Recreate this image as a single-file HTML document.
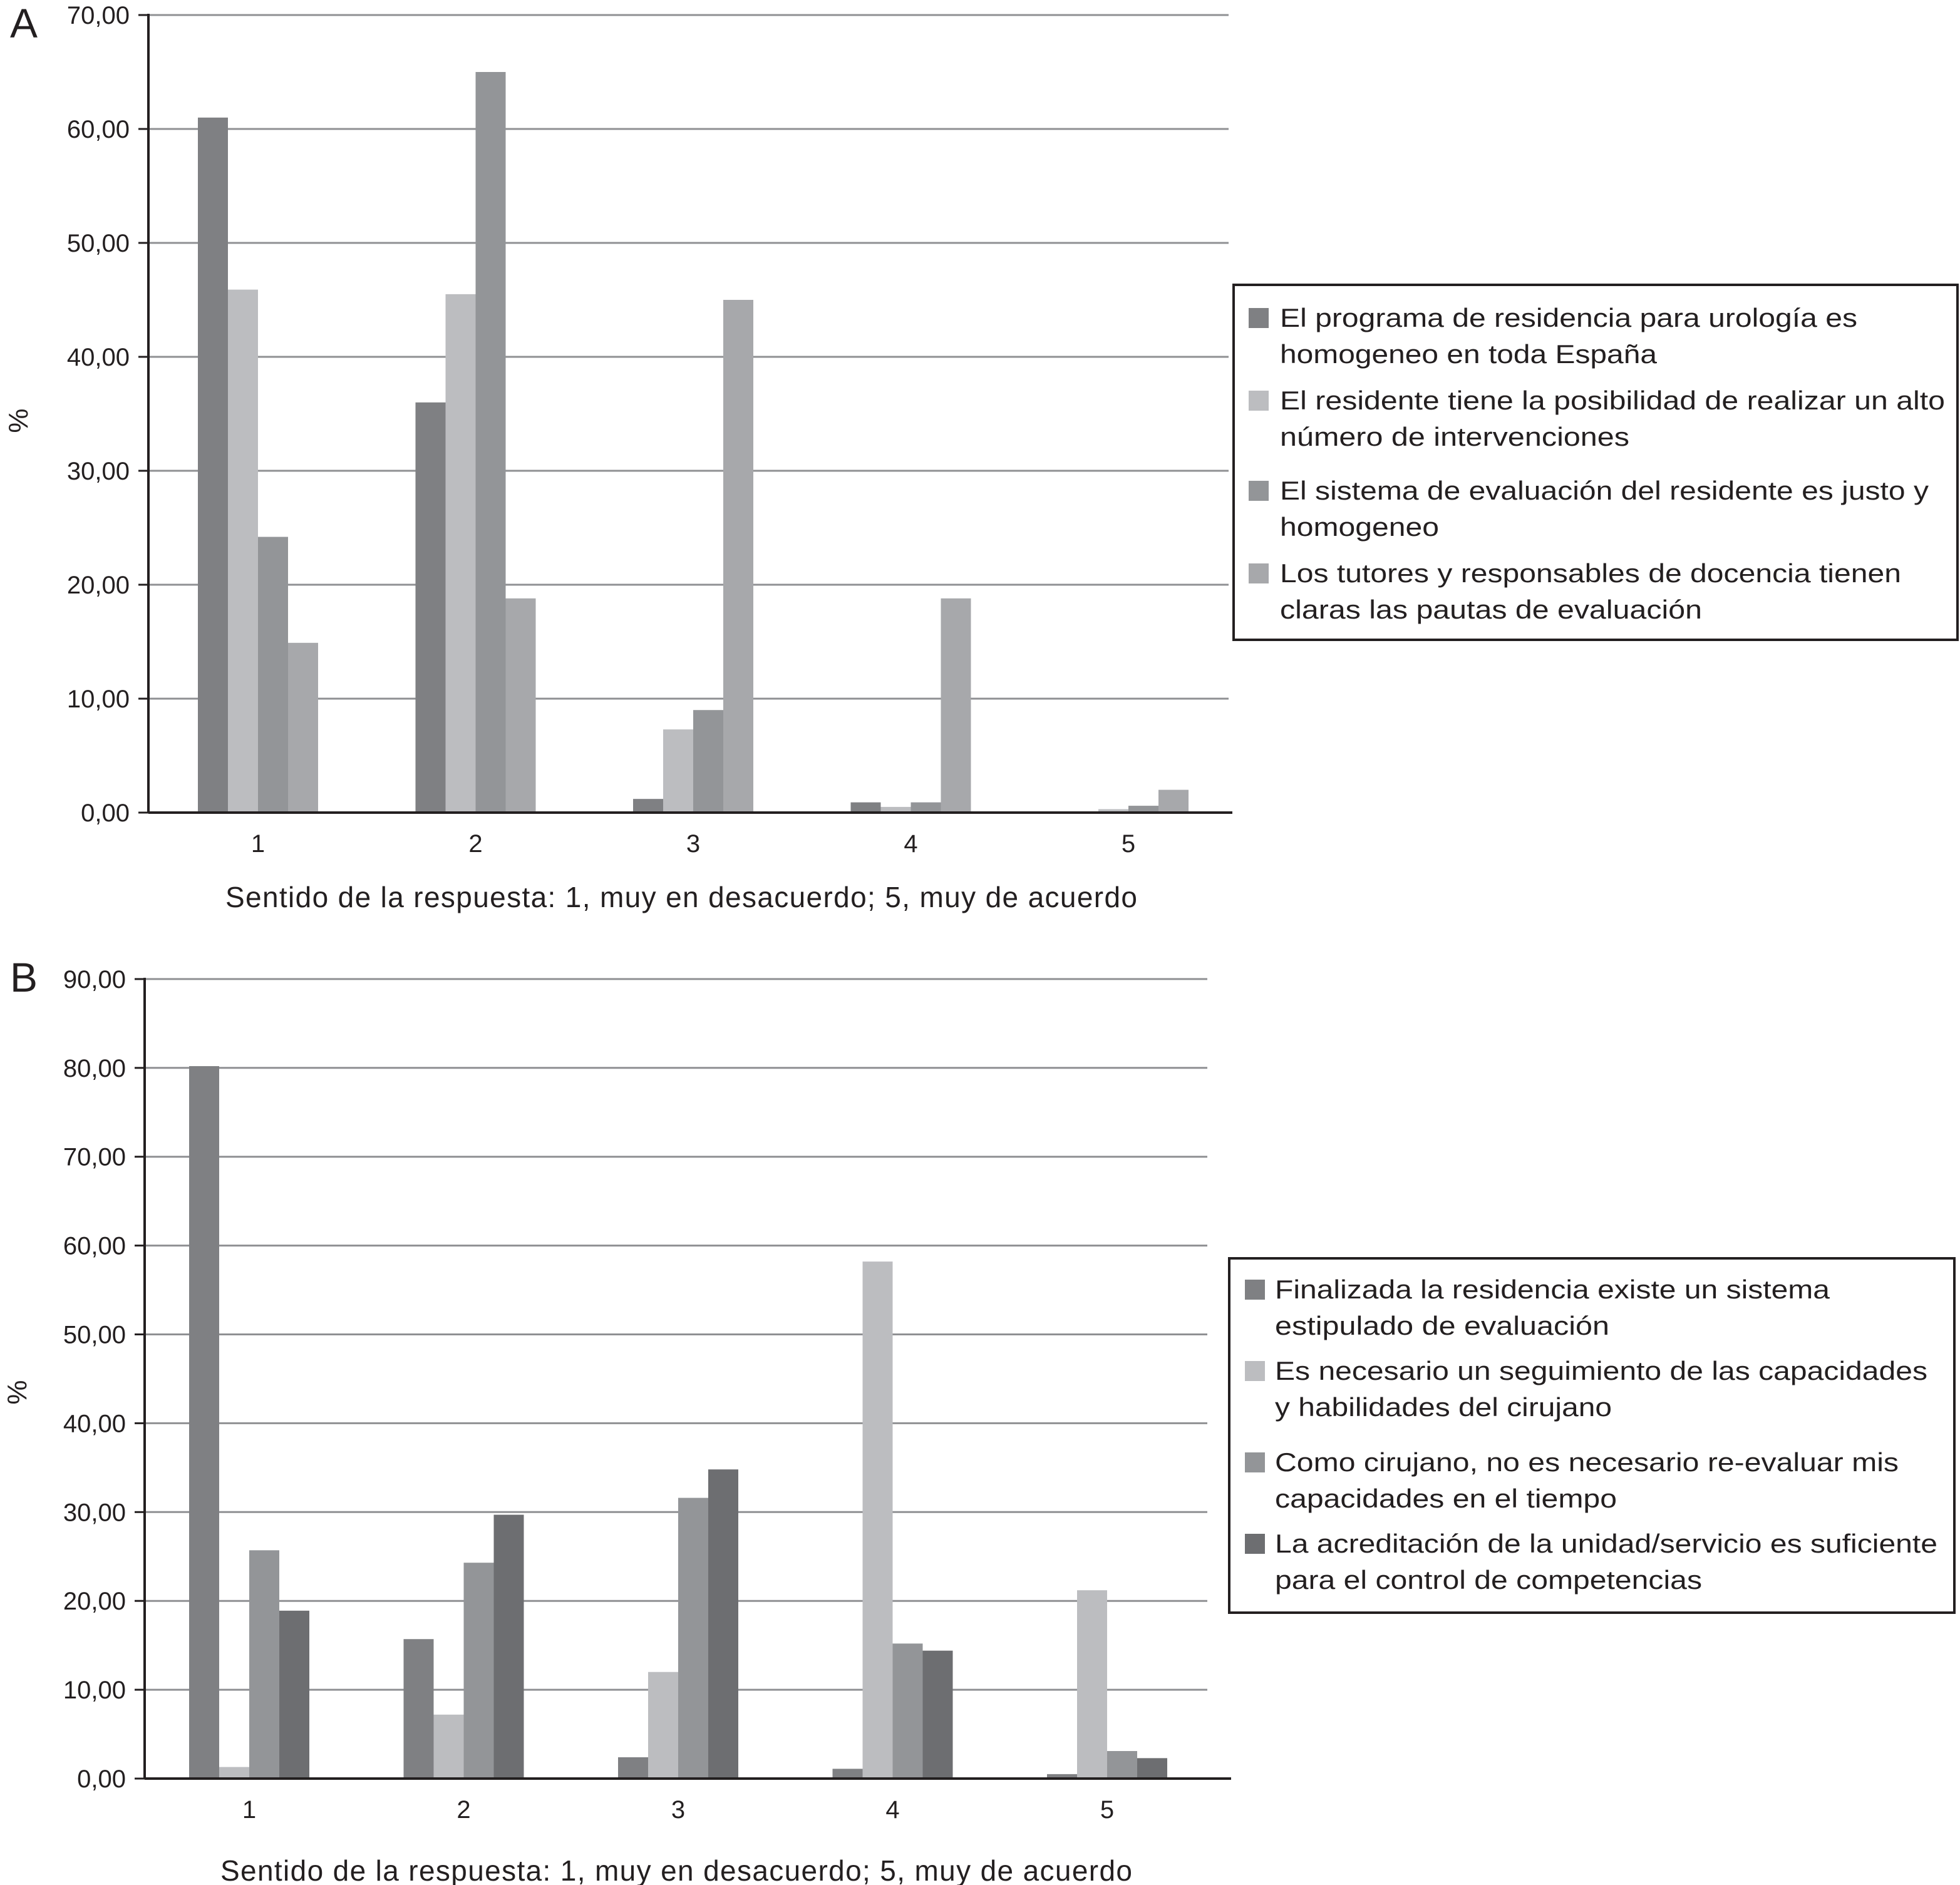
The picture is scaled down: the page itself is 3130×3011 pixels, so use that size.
<!DOCTYPE html>
<html><head><meta charset="utf-8"><style>
html,body{margin:0;padding:0;background:#fff}
svg{display:block;font-family:"Liberation Sans",sans-serif}
</style></head><body>
<svg id="chart" width="3130" height="3011" viewBox="0 0 3130 3011" xmlns="http://www.w3.org/2000/svg">
<text x="16" y="60" font-size="66" fill="#231f20">A</text>
<text x="16" y="1584" font-size="66" fill="#231f20">B</text>
<text transform="translate(44,672) rotate(-90)" text-anchor="middle" font-size="44" fill="#231f20">%</text>
<text transform="translate(42,2224) rotate(-90)" text-anchor="middle" font-size="44" fill="#231f20">%</text>
<text x="1088" y="1449" text-anchor="middle" font-size="46" fill="#231f20" textLength="1456">Sentido de la  respuesta: 1, muy en desacuerdo; 5, muy de acuerdo</text>
<text x="1080" y="3004" text-anchor="middle" font-size="46" fill="#231f20" textLength="1456">Sentido de la  respuesta: 1, muy en desacuerdo; 5, muy de acuerdo</text>
<g id="gA"></g><g id="gB"></g>
<rect x="1970" y="455" width="1156" height="567" fill="none" stroke="#231f20" stroke-width="4"/>
<rect x="1963" y="2010" width="1158" height="566" fill="none" stroke="#231f20" stroke-width="4"/>
<g id="legA"></g><g id="legB"></g>
</svg>
<script>
const categories = ["1","2","3","4","5"];
const ticksA = ["0,00","10,00","20,00","30,00","40,00","50,00","60,00","70,00"];
const ticksB = ["0,00","10,00","20,00","30,00","40,00","50,00","60,00","70,00","80,00","90,00"];
const a1 = [61, 36, 1.2, 0.9, 0];
const a2 = [45.9, 45.5, 7.3, 0.5, 0.3];
const a3 = [24.2, 65, 9, 0.9, 0.6];
const a4 = [14.9, 18.8, 45, 18.8, 2];
const b1 = [80.2, 15.7, 2.4, 1.1, 0.5];
const b2 = [1.3, 7.2, 12, 58.2, 21.2];
const b3 = [25.7, 24.3, 31.6, 15.2, 3.1];
const b4 = [18.9, 29.7, 34.8, 14.4, 2.3];
const legendA = [["El programa de residencia para urología es","homogeneo en toda España"],["El residente tiene la posibilidad de realizar un alto","número de intervenciones"],["El sistema de evaluación del residente es justo y","homogeneo"],["Los tutores y responsables de docencia tienen","claras las pautas de evaluación"]];
const legendB = [["Finalizada la residencia existe un sistema","estipulado de evaluación"],["Es necesario un seguimiento de las capacidades","y habilidades del cirujano"],["Como cirujano, no es necesario re-evaluar mis","capacidades en el tiempo"],["La acreditación de la unidad/servicio es suficiente","para el control de competencias"]];

const NS="http://www.w3.org/2000/svg";
function mk(tag,attrs,parent){const e=document.createElementNS(NS,tag);for(const k in attrs)e.setAttribute(k,attrs[k]);parent.appendChild(e);return e;}

function panel(g,cfg,series,colors,ticks,tag){
  const y=v=>cfg.y0-(v/10)*cfg.unit;
  const x=i=>cfg.c0+i*cfg.step;
  ticks.forEach((t,i)=>{
    const v=i*10, yy=y(v);
    if(i>0){const l=mk('line',{x1:cfg.ax,x2:cfg.gridEnd,y1:yy,y2:yy,stroke:'#8f9093','stroke-width':3},g);
      
      }
    const tk=mk('line',{x1:cfg.ax-16,x2:cfg.ax,y1:yy,y2:yy,stroke:'#231f20','stroke-width':3},g);
    
    
    const tx=mk('text',{x:cfg.ax-30,y:yy+14,'text-anchor':'end','font-size':40,fill:'#231f20'},g);
    tx.textContent=t;
    
    
  });
  const bw=48;
  series.forEach((s,si)=>{
    s.forEach((v,ci)=>{
      const x0=x(ci)-2*bw+si*bw, yy=y(v);
      const r=mk('rect',{x:x0,y:yy,width:bw,height:Math.max(0,cfg.y0-yy),fill:colors[si]},g);
      
      
    });
  });
  const ya=mk('line',{x1:cfg.ax,x2:cfg.ax,y1:y((ticks.length-1)*10)-2,y2:cfg.y0,stroke:'#231f20','stroke-width':4},g);
  
  
  const xa=mk('line',{x1:cfg.ax,x2:cfg.axEnd,y1:cfg.y0,y2:cfg.y0,stroke:'#231f20','stroke-width':4},g);
  
  
  categories.forEach((c,i)=>{
    const t=mk('text',{x:x(i),y:cfg.y0+63,'text-anchor':'middle','font-size':40,fill:'#231f20'},g);
    t.textContent=c;
    
    
  });
}
function legend(g,items,colors,cfg,tag){
  items.forEach((it,i)=>{
    const yy=cfg.ys[i];
    const r=mk('rect',{x:cfg.sx,y:yy-16,width:32,height:32,fill:colors[i]},g);
    
    
    it.forEach((line,li)=>{
      const t=mk('text',{x:cfg.tx,y:yy+14+li*58,'font-size':42,fill:'#231f20',textLength:cfg.w[i][li],lengthAdjust:'spacingAndGlyphs'},g);
      t.textContent=line;
      
      
    });
  });
}
const colA=['#7f8083','#bcbdc0','#939598','#a7a8ab'];
const colB=['#7f8083','#bcbdc0','#939598','#6d6e71'];
panel(document.getElementById('gA'),{y0:1298,unit:182,ax:237,gridEnd:1962,axEnd:1968,c0:412,step:347.5},[a1,a2,a3,a4],colA,ticksA,'panel-a');
panel(document.getElementById('gB'),{y0:2841,unit:141.9,ax:231,gridEnd:1928,axEnd:1966,c0:398,step:342.5},[b1,b2,b3,b4],colB,ticksB,'panel-b');
legend(document.getElementById('legA'),legendA,colA,{sx:1994,tx:2044,ys:[508,640,784,916],w:[[922,602],[1062,558],[1036,254],[992,674]]},'panel-a');
legend(document.getElementById('legB'),legendB,colB,{sx:1988,tx:2036,ys:[2060,2190,2336,2466],w:[[886,534],[1042,538],[996,546],[1058,682]]},'panel-b');
</script>
</body></html>
